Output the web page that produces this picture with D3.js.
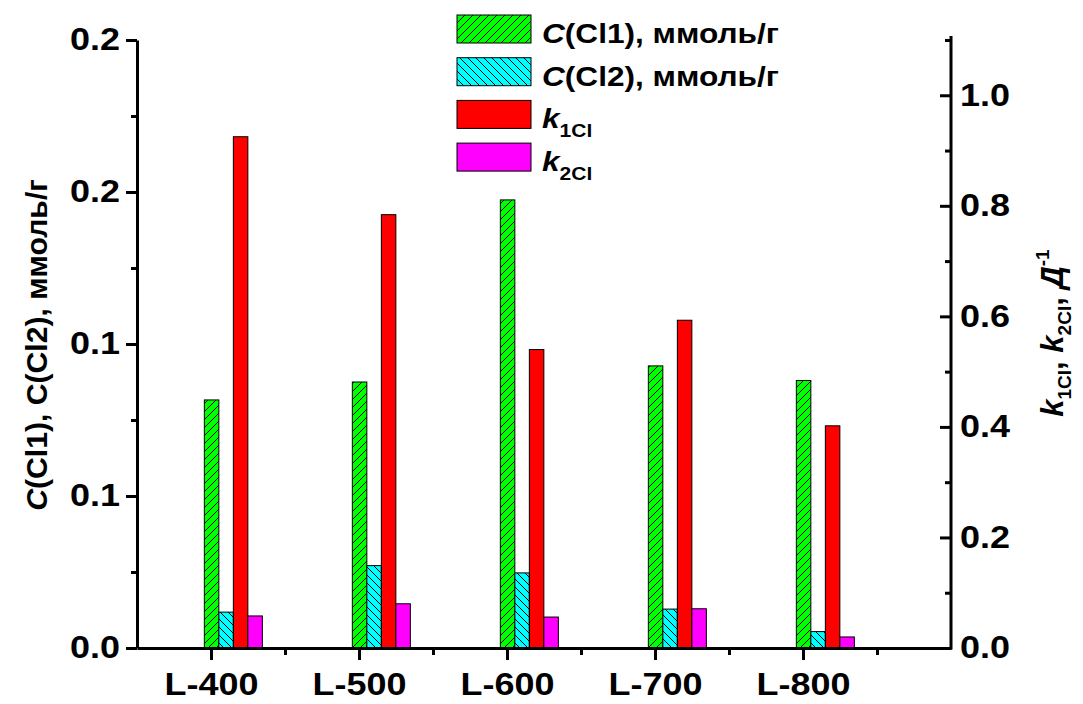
<!DOCTYPE html>
<html>
<head>
<meta charset="utf-8">
<script src="https://cdn.jsdelivr.net/npm/d3@7"></script>
<style>
  body { margin: 0; background: #fff; }
  svg { font-family: "Liberation Sans", Arial, sans-serif; font-weight: bold; }
</style>
</head>
<body>
<svg id="chart" width="1083" height="704"></svg>
<script>
// categories and values
const categories = ["L-400", "L-500", "L-600", "L-700", "L-800"];
const cCl1 = [0.0816, 0.0875, 0.1474, 0.0928, 0.0880];   // left axis
const cCl2 = [0.0118, 0.0271, 0.0247, 0.0128, 0.0054];   // left axis
const k1Cl = [0.925, 0.784, 0.540, 0.593, 0.402];        // right axis
const k2Cl = [0.058, 0.080, 0.056, 0.071, 0.020];        // right axis
const leftTicks = [0, 0.05, 0.1, 0.15, 0.2];
const leftTickLabels = ["0.0", "0.1", "0.1", "0.2", "0.2"];
const rightTicks = [0, 0.2, 0.4, 0.6, 0.8, 1.0];
const rightTickLabels = ["0.0", "0.2", "0.4", "0.6", "0.8", "1.0"];

const svg = d3.select("#chart");
const marginLeft = 137, marginRight = 951, plotTop = 40, plotBottom = 648;

const x = d3.scaleLinear().domain([0.5, 6]).range([marginLeft, marginRight]);
const yLeft = d3.scaleLinear().domain([0, 0.2]).range([plotBottom, plotTop]);
const yRight = d3.scaleLinear().domain([0, 1.1]).range([plotBottom, plotTop]);

// the source font is a bit wider than Liberation Sans, stretch glyphs a little
function stretch(sel, f) {
  sel.each(function () {
    const w = this.getComputedTextLength();
    d3.select(this).attr("textLength", w * f).attr("lengthAdjust", "spacingAndGlyphs");
  });
}

// hatch patterns
const defs = svg.append("defs");
function hatch(id, fill, dir) {
  const p = defs.append("pattern")
    .attr("id", id)
    .attr("patternUnits", "userSpaceOnUse")
    .attr("width", 8).attr("height", 8);
  p.append("rect").attr("width", 8).attr("height", 8).attr("fill", fill);
  p.append("path")
    .attr("d", dir > 0 ? "M-2,2 L2,-2 M0,8 L8,0 M6,10 L10,6" : "M-2,6 L2,10 M0,0 L8,8 M6,-2 L10,2")
    .attr("stroke", "#000").attr("stroke-width", 1);
}
hatch("hatchGreen", "#00ff00", 1);
hatch("hatchCyan", "#00ffff", -1);

const series = [
  { values: cCl1, scale: yLeft, fill: "url(#hatchGreen)" },
  { values: cCl2, scale: yLeft, fill: "url(#hatchCyan)" },
  { values: k1Cl, scale: yRight, fill: "#ff0000" },
  { values: k2Cl, scale: yRight, fill: "#ff00ff" },
];

const barW = 0.098, startOff = -0.045;
series.forEach((s, si) => {
  svg.append("g")
    .selectAll("rect")
    .data(s.values)
    .join("rect")
    .attr("x", (d, i) => x(i + 1 + startOff + si * barW))
    .attr("width", x(barW) - x(0))
    .attr("y", d => s.scale(d))
    .attr("height", d => plotBottom - s.scale(d))
    .attr("fill", s.fill)
    .attr("stroke", "#000")
    .attr("stroke-width", 1);
});

// axes
function styleAxis(g) {
  g.select(".domain").attr("stroke-width", 3);
  g.selectAll(".tick line").attr("stroke-width", 3);
  g.selectAll("text").attr("font-size", 31).attr("font-weight", "bold").attr("fill", "#000")
    .attr("font-family", "Liberation Sans, Arial, sans-serif")
    .call(stretch, 1.16);
}

// left
svg.append("g").attr("transform", `translate(${marginLeft},0)`)
  .call(d3.axisLeft(yLeft).tickValues(d3.range(0.025, 0.2, 0.05)).tickSize(6).tickFormat("").tickSizeOuter(0))
  .call(g => { g.select(".domain").remove(); g.selectAll(".tick line").attr("stroke-width", 3); });
svg.append("g").attr("transform", `translate(${marginLeft},0)`)
  .call(d3.axisLeft(yLeft).tickValues(leftTicks).tickFormat((d, i) => leftTickLabels[i]).tickSize(11).tickPadding(6).tickSizeOuter(0))
  .call(styleAxis);

// right
svg.append("g").attr("transform", `translate(${marginRight},0)`)
  .call(d3.axisRight(yRight).tickValues([0.1, 0.3, 0.5, 0.7, 0.9, 1.1]).tickSize(-6).tickFormat("").tickSizeOuter(0))
  .call(g => { g.select(".domain").remove(); g.selectAll(".tick line").attr("stroke-width", 3); });
svg.append("g").attr("transform", `translate(${marginRight},0)`)
  .call(d3.axisRight(yRight).tickValues(rightTicks).tickFormat((d, i) => rightTickLabels[i]).tickSize(-11).tickPadding(9).tickSizeOuter(0))
  .call(styleAxis)
  .call(g => g.select(".domain").attr("d", `M0,${plotTop - 4}V${plotBottom + 1.5}`));

// bottom
svg.append("g").attr("transform", `translate(0,${plotBottom})`)
  .call(d3.axisBottom(x).tickValues([1.5, 2.5, 3.5, 4.5, 5.5]).tickSize(7).tickFormat("").tickSizeOuter(0))
  .call(g => { g.select(".domain").remove(); g.selectAll(".tick line").attr("stroke-width", 3); });
svg.append("g").attr("transform", `translate(0,${plotBottom})`)
  .call(d3.axisBottom(x).tickValues([1, 2, 3, 4, 5]).tickFormat((d, i) => categories[i]).tickSize(12).tickPadding(13).tickSizeOuter(0))
  .call(styleAxis);

// axis titles
svg.append("text")
  .attr("transform", `translate(47,345) rotate(-90)`)
  .attr("text-anchor", "middle")
  .attr("font-size", 29)
  .call(t => {
    t.append("tspan").attr("font-style", "italic").text("C");
    t.append("tspan").text("(Cl1), C(Cl2), ммоль/г");
  })
  .call(stretch, 1.04);

const rt = svg.append("text")
  .attr("transform", `translate(1063,333) rotate(-90)`)
  .attr("text-anchor", "middle")
  .attr("font-size", 31);
rt.append("tspan").attr("font-style", "italic").text("k");
rt.append("tspan").attr("font-size", 19).attr("dy", 8).text("1Cl");
rt.append("tspan").attr("dy", -8).text(", ");
rt.append("tspan").attr("font-style", "italic").text("k");
rt.append("tspan").attr("font-size", 19).attr("dy", 8).text("2Cl");
rt.append("tspan").attr("dy", -8).text(", ");
rt.append("tspan").attr("font-style", "italic").text("Д");
rt.append("tspan").attr("font-size", 19).attr("dy", -14).text("-1");

// legend
const legendItems = [
  { fill: "url(#hatchGreen)", main: "C", rest: "(Cl1), ммоль/г" },
  { fill: "url(#hatchCyan)", main: "C", rest: "(Cl2), ммоль/г" },
  { fill: "#ff0000", main: "k", sub: "1Cl" },
  { fill: "#ff00ff", main: "k", sub: "2Cl" },
];
const lg = svg.append("g").attr("transform", "translate(457,15)");
legendItems.forEach((d, i) => {
  const gy = i * 42.7;
  lg.append("rect").attr("x", 0).attr("y", gy).attr("width", 74).attr("height", 28)
    .attr("fill", d.fill).attr("stroke", "#000").attr("stroke-width", 1);
  const t = lg.append("text").attr("x", 85).attr("y", gy + 28).attr("font-size", 27);
  t.append("tspan").attr("font-style", "italic").text(d.main);
  if (d.rest) t.append("tspan").text(d.rest);
  if (d.sub) t.append("tspan").attr("font-size", 18).attr("dy", 9).text(d.sub);
  t.call(stretch, 1.17);
});
</script>
</body>
</html>
